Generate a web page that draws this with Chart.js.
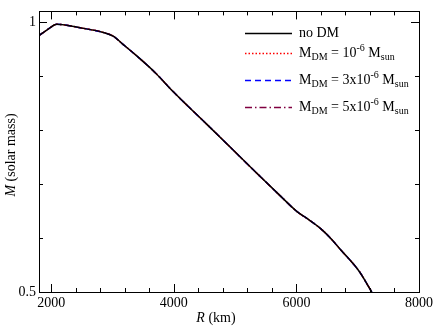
<!DOCTYPE html>
<html>
<head>
<meta charset="utf-8">
<script src="https://cdn.jsdelivr.net/npm/chart.js@4/dist/chart.umd.min.js"></script>
<style>
html,body{margin:0;padding:0;background:#fff;}
#wrap{width:436px;height:327px;}
</style>
</head>
<body>
<div id="wrap"><canvas id="c" width="436" height="327"></canvas></div>
<script>
// Radius (km)
const radius = [1800, 1950, 2090, 2500, 2850, 3010, 3170, 3390, 3700, 4000, 4500, 4880, 5300, 5720, 6000, 6200, 6400, 6580, 6700, 7020, 7230];
// Mass (solar mass) for each model
const massNoDM   = [0.975, 0.987, 0.996, 0.989, 0.981, 0.974, 0.959, 0.938, 0.906, 0.870, 0.815, 0.773, 0.726, 0.680, 0.650, 0.634, 0.617, 0.597, 0.581, 0.539, 0.500];
const massDM1e6  = [0.975, 0.987, 0.996, 0.989, 0.981, 0.974, 0.959, 0.938, 0.906, 0.870, 0.815, 0.773, 0.726, 0.680, 0.650, 0.634, 0.617, 0.597, 0.581, 0.539, 0.500];
const massDM3e6  = [0.975, 0.987, 0.996, 0.989, 0.981, 0.974, 0.959, 0.938, 0.906, 0.870, 0.815, 0.773, 0.726, 0.680, 0.650, 0.634, 0.617, 0.597, 0.581, 0.539, 0.500];
const massDM5e6  = [0.975, 0.987, 0.996, 0.989, 0.981, 0.974, 0.959, 0.938, 0.906, 0.870, 0.815, 0.773, 0.726, 0.680, 0.650, 0.634, 0.617, 0.597, 0.581, 0.539, 0.500];
const xTickLabels = [2000, 4000, 6000, 8000];
const yTickLabels = [0.5, 1];
const xMinorTicks = [2400, 2800, 3200, 3600, 4400, 4800, 5200, 5600, 6400, 6800, 7200, 7600];
const yMinorTicks = [0.6, 0.7, 0.8, 0.9];

const FONT = '"Liberation Serif", "DejaVu Serif", serif';
const toPts = ys => radius.map((r, i) => ({x: r, y: ys[i]}));

const styles = [
  {label: 'no DM', data: massNoDM, color: '#000000', dash: []},
  {label: 'M_DM = 10^-6 M_sun', data: massDM1e6, color: '#ff0000', dash: [1.5, 2]},
  {label: 'M_DM = 3x10^-6 M_sun', data: massDM3e6, color: '#0000ff', dash: [6, 4]},
  {label: 'M_DM = 5x10^-6 M_sun', data: massDM5e6, color: '#800040', dash: [7, 3, 1.5, 3]}
];

const deco = {
  id: 'deco',
  afterDraw(chart) {
    const ctx = chart.ctx, a = chart.chartArea;
    const xs = chart.scales.x, ys = chart.scales.y;
    ctx.save();
    ctx.strokeStyle = '#000'; ctx.lineWidth = 1; ctx.setLineDash([]);
    ctx.strokeRect(Math.round(a.left) + 0.5, Math.round(a.top) + 0.5, Math.round(a.right - a.left), Math.round(a.bottom - a.top));
    const tick = (x1, y1, x2, y2) => { ctx.beginPath(); ctx.moveTo(x1, y1); ctx.lineTo(x2, y2); ctx.stroke(); };
    xTickLabels.forEach(v => { const p = Math.round(xs.getPixelForValue(v)) + 0.5; tick(p, a.bottom, p, a.bottom - 8); tick(p, a.top, p, a.top + 8); });
    xMinorTicks.forEach(v => { const p = Math.round(xs.getPixelForValue(v)) + 0.5; tick(p, a.bottom, p, a.bottom - 4); tick(p, a.top, p, a.top + 4); });
    yTickLabels.forEach(v => { const p = Math.round(ys.getPixelForValue(v)) + 0.5; tick(a.left, p, a.left + 8, p); tick(a.right, p, a.right - 8, p); });
    yMinorTicks.forEach(v => { const p = Math.round(ys.getPixelForValue(v)) + 0.5; tick(a.left, p, a.left + 4, p); tick(a.right, p, a.right - 4, p); });

    // axis titles
    ctx.fillStyle = '#000'; ctx.textBaseline = 'middle';
    const runs = (x, y, parts, align) => {
      let w = 0;
      parts.forEach(p => { ctx.font = p.f; w += ctx.measureText(p.t).width; });
      let cx = align === 'center' ? x - w / 2 : x;
      ctx.textAlign = 'left';
      parts.forEach(p => { ctx.font = p.f; ctx.fillText(p.t, cx, y + (p.dy || 0)); cx += ctx.measureText(p.t).width; });
    };
    const main = '14px ' + FONT, ital = 'italic 14px ' + FONT, small = '10px ' + FONT;
    runs(216, 318, [{t: 'R', f: ital}, {t: ' (km)', f: main}], 'center');
    ctx.save();
    ctx.translate(11, 155); ctx.rotate(-Math.PI / 2);
    runs(0, 0, [{t: 'M', f: ital}, {t: ' (solar mass)', f: main}], 'center');
    ctx.restore();

    // legend
    const rowsY = [33, 53, 80, 107];
    const texts = [
      [{t: 'no DM', f: main}],
      [{t: 'M', f: main}, {t: 'DM', f: small, dy: 4}, {t: ' = 10', f: main}, {t: '-6', f: small, dy: -5}, {t: ' M', f: main}, {t: 'sun', f: small, dy: 4}],
      [{t: 'M', f: main}, {t: 'DM', f: small, dy: 4}, {t: ' = 3x10', f: main}, {t: '-6', f: small, dy: -5}, {t: ' M', f: main}, {t: 'sun', f: small, dy: 4}],
      [{t: 'M', f: main}, {t: 'DM', f: small, dy: 4}, {t: ' = 5x10', f: main}, {t: '-6', f: small, dy: -5}, {t: ' M', f: main}, {t: 'sun', f: small, dy: 4}]
    ];
    styles.forEach((s, i) => {
      const y = rowsY[i];
      ctx.strokeStyle = s.color; ctx.lineWidth = 1.5; ctx.setLineDash(s.dash);
      tick(245, y + 0.5, 292, y + 0.5);
      ctx.setLineDash([]);
      runs(299, y, texts[i], 'left');
    });
    ctx.restore();
  }
};

new Chart(document.getElementById('c'), {
  type: 'line',
  data: {
    datasets: styles.map(s => ({
      label: s.label, data: toPts(s.data), borderColor: s.color, borderDash: s.dash,
      borderWidth: 1.5, pointRadius: 0, fill: false, cubicInterpolationMode: 'monotone'
    }))
  },
  options: {
    responsive: false, animation: false, devicePixelRatio: 1,
    layout: {padding: {top: 1, right: 15, left: 0, bottom: 0}},
    plugins: {legend: {display: false}, tooltip: {enabled: false}},
    scales: {
      x: {
        type: 'linear', min: 1800, max: 8000,
        grid: {display: false, drawTicks: false}, border: {display: false},
        ticks: {font: {family: FONT, size: 14}, color: '#000', padding: 3, maxRotation: 0, autoSkip: false,
                callback: v => String(v)},
        afterBuildTicks: s => { s.ticks = xTickLabels.map(v => ({value: v})); },
        afterFit: s => { s.height = 35; }
      },
      y: {
        type: 'linear', min: 0.5, max: 1.02,
        grid: {display: false, drawTicks: false}, border: {display: false},
        ticks: {font: {family: FONT, size: 14}, color: '#000', padding: 3, callback: v => String(v)},
        afterBuildTicks: s => { s.ticks = yTickLabels.map(v => ({value: v})); },
        afterFit: s => { s.width = 39; }
      }
    }
  },
  plugins: [deco]
});
</script>
</body>
</html>
